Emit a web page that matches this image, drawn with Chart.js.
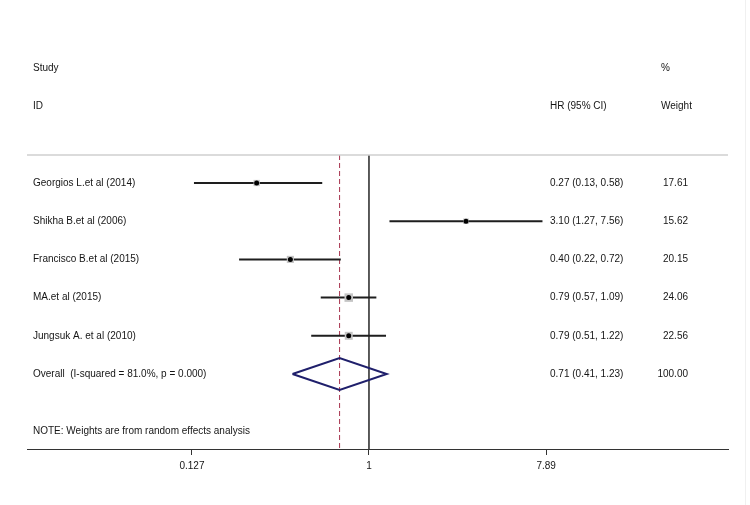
<!DOCTYPE html>
<html lang="en">
<head>
    <meta charset="UTF-8">
    <title>Forest plot - HR (95% CI)</title>
    <script src="https://cdn.jsdelivr.net/npm/chart.js"></script>
    <style>
        body { margin: 0; background: #fff; }
        canvas { display: block; }
    </style>
</head>
<body>
    <canvas id="forest" width="750" height="505"></canvas>

    <script>
        // study data
        const studies = ['Georgios L.et al (2014)', 'Shikha B.et al (2006)', 'Francisco B.et al (2015)', 'MA.et al (2015)', 'Jungsuk A. et al (2010)'];
        const hr = [0.27, 3.10, 0.40, 0.79, 0.79];
        const ciLow = [0.13, 1.27, 0.22, 0.57, 0.51];
        const ciHigh = [0.58, 7.56, 0.72, 1.09, 1.22];
        const weights = [17.61, 15.62, 20.15, 24.06, 22.56];

        const overallLabel = 'Overall  (I-squared = 81.0%, p = 0.000)';
        const overallHR = 0.71;
        const overallLow = 0.41;
        const overallHigh = 1.23;
        const overallWeight = 100.00;

        const tickValues = [0.127, 1, 7.89];
        const tickLabels = ['0.127', '1', '7.89'];
        const note = 'NOTE: Weights are from random effects analysis';

        const FONT = '"Liberation Sans", Arial, sans-serif';
        const overallRow = studies.length;
        const yMin = -0.733, yMax = 6.963;

        const fmt = v => v.toFixed(2);

        // CI whiskers as one line dataset broken by null gaps
        const ciData = [];
        studies.forEach((s, i) => {
            ciData.push({ x: ciLow[i], y: i }, { x: ciHigh[i], y: i }, { x: ciHigh[i], y: null });
        });

        const diamondHalf = 0.42;
        const diamondData = [
            { x: overallLow, y: overallRow },
            { x: overallHR, y: overallRow - diamondHalf },
            { x: overallHigh, y: overallRow },
            { x: overallHR, y: overallRow + diamondHalf },
            { x: overallLow, y: overallRow }
        ];

        const textPlugin = {
            id: 'forestText',
            afterDraw(chart) {
                const ctx = chart.ctx;
                const area = chart.chartArea;
                const y = chart.scales.y;
                ctx.save();

                // top rule
                ctx.strokeStyle = '#cfcfcf';
                ctx.lineWidth = 1.5;
                ctx.beginPath();
                ctx.moveTo(area.left, area.top);
                ctx.lineTo(area.right, area.top);
                ctx.stroke();

                // faint frame edge on the right
                ctx.strokeStyle = '#f0f0f0';
                ctx.lineWidth = 1;
                ctx.beginPath();
                ctx.moveTo(745.5, 0);
                ctx.lineTo(745.5, chart.height);
                ctx.stroke();

                ctx.fillStyle = '#151515';
                ctx.font = '10px ' + FONT;
                ctx.textBaseline = 'middle';
                const labelX = 33, hrX = 550, wX = 661, wRight = 688;

                // headers
                ctx.textAlign = 'left';
                ctx.fillText('Study', labelX, y.getPixelForValue(-3));
                ctx.fillText('ID', labelX, y.getPixelForValue(-2));
                ctx.fillText('HR (95% CI)', hrX, y.getPixelForValue(-2));
                ctx.fillText('%', wX, y.getPixelForValue(-3));
                ctx.fillText('Weight', wX, y.getPixelForValue(-2));

                studies.forEach((s, i) => {
                    const py = y.getPixelForValue(i);
                    ctx.textAlign = 'left';
                    ctx.fillText(s, labelX, py);
                    ctx.fillText(`${fmt(hr[i])} (${fmt(ciLow[i])}, ${fmt(ciHigh[i])})`, hrX, py);
                    ctx.textAlign = 'right';
                    ctx.fillText(fmt(weights[i]), wRight, py);
                });

                const oy = y.getPixelForValue(overallRow);
                ctx.textAlign = 'left';
                ctx.fillText(overallLabel, labelX, oy);
                ctx.fillText(`${fmt(overallHR)} (${fmt(overallLow)}, ${fmt(overallHigh)})`, hrX, oy);
                ctx.textAlign = 'right';
                ctx.fillText(fmt(overallWeight), wRight, oy);

                ctx.textAlign = 'left';
                ctx.fillText(note, labelX, y.getPixelForValue(6.5));
                ctx.restore();
            }
        };

        new Chart(document.getElementById('forest'), {
            type: 'scatter',
            data: {
                datasets: [
                    {
                        // point estimates, drawn on top
                        order: 0,
                        data: hr.map((v, i) => ({ x: v, y: i })),
                        pointStyle: 'circle',
                        pointRadius: 2.5,
                        backgroundColor: '#000',
                        borderWidth: 0
                    },
                    {
                        // weight boxes
                        order: 1,
                        data: hr.map((v, i) => ({ x: v, y: i })),
                        pointStyle: 'rect',
                        pointRadius: weights.map(w => w * 0.25),
                        backgroundColor: '#c4c4c4',
                        borderWidth: 0
                    },
                    {
                        order: 2,
                        type: 'line',
                        data: ciData,
                        borderColor: '#1e1e1e',
                        borderWidth: 2,
                        pointRadius: 0,
                        spanGaps: false
                    },
                    {
                        order: 3,
                        type: 'line',
                        data: diamondData,
                        borderColor: '#1f1f6b',
                        borderWidth: 2,
                        pointRadius: 0,
                        fill: false
                    },
                    {
                        order: 4,
                        type: 'line',
                        data: [{ x: 1, y: yMin }, { x: 1, y: yMax }],
                        borderColor: '#444',
                        borderWidth: 1,
                        pointRadius: 0
                    },
                    {
                        order: 5,
                        type: 'line',
                        data: [{ x: overallHR, y: yMin }, { x: overallHR, y: yMax }],
                        borderColor: '#a8344f',
                        borderWidth: 1,
                        borderDash: [5, 3],
                        pointRadius: 0
                    }
                ]
            },
            options: {
                responsive: false,
                animation: false,
                layout: { padding: { top: 155, left: 27, right: 22, bottom: 28 } },
                plugins: { legend: { display: false }, tooltip: { enabled: false } },
                scales: {
                    x: {
                        type: 'logarithmic',
                        min: 0.01856,
                        max: 65.75,
                        afterBuildTicks: scale => { scale.ticks = tickValues.map(v => ({ value: v })); },
                        ticks: {
                            callback: (v, i) => tickLabels[i],
                            color: '#151515',
                            font: { family: FONT, size: 10 },
                            padding: 5,
                            maxRotation: 0,
                            autoSkip: false
                        },
                        grid: { drawOnChartArea: false, drawTicks: true, tickLength: 6, color: '#333' },
                        border: { display: true, color: '#333', width: 1 }
                    },
                    y: {
                        type: 'linear',
                        reverse: true,
                        min: yMin,
                        max: yMax,
                        display: false
                    }
                }
            },
            plugins: [textPlugin]
        });
    </script>
</body>
</html>
